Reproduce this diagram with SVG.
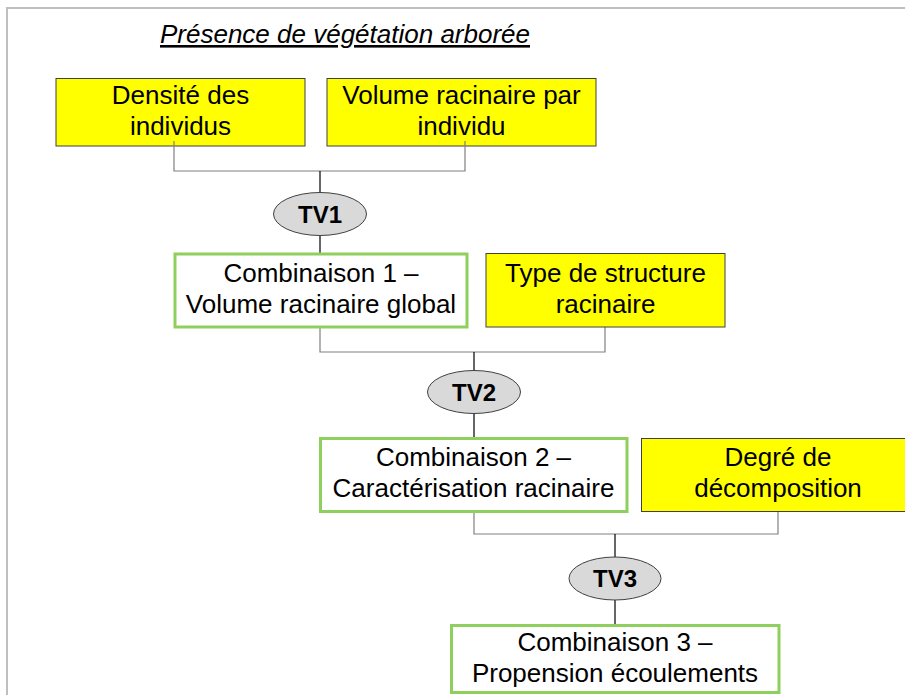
<svg xmlns="http://www.w3.org/2000/svg" width="905" height="695" viewBox="0 0 905 695">
<style>
.t{font-family:"Liberation Sans",Arial,sans-serif;font-size:26px;fill:#000;text-anchor:middle}
.y{fill:#ffff00;stroke:#404040;stroke-width:1}
.g{fill:#fff;stroke:#8fcf5e;stroke-width:3}
.e{fill:#d9d9d9;stroke:#404040;stroke-width:1}
.tv{font-family:"Liberation Sans",Arial,sans-serif;font-size:24px;font-weight:bold;fill:#000;text-anchor:middle}
.br{fill:none;stroke:#808080;stroke-width:1.2}
.st{fill:none;stroke:#000;stroke-width:1.2}
</style>
<rect x="0" y="0" width="905" height="695" fill="#fff"/>
<rect x="7" y="8" width="1000" height="1000" fill="none" stroke="#bfbfbf" stroke-width="2"/>
<text id="title" x="345" y="43" class="t" font-style="italic" text-decoration="underline">Présence de végétation arborée</text>
<g id="densite">
<rect class="y" x="56" y="78.5" width="249" height="67.5"/>
<text class="t" x="180.5" y="104">Densité des</text>
<text class="t" x="180.5" y="135">individus</text>
</g>
<g id="volume">
<rect class="y" x="327" y="78.5" width="269" height="67.5"/>
<text class="t" x="461.5" y="104">Volume racinaire par</text>
<text class="t" x="461.5" y="135">individu</text>
</g>
<g id="connectors">
<polyline class="br" points="174,141 174,171 465,171 465,141"/>
<line class="st" x1="320" y1="171" x2="320" y2="192"/>
<line class="st" x1="320" y1="236" x2="320" y2="253"/>
<polyline class="br" points="320,328 320,352 605,352 605,327"/>
<line class="st" x1="474" y1="352" x2="474" y2="371"/>
<line class="st" x1="474" y1="413" x2="474" y2="437"/>
<polyline class="br" points="474,512 474,534 778,534 778,511"/>
<line class="st" x1="615" y1="534" x2="615" y2="557"/>
<line class="st" x1="615" y1="600" x2="615" y2="624"/>
</g>
<g id="tv1">
<ellipse class="e" cx="320" cy="214" rx="46.5" ry="21.5"/>
<text class="tv" x="320" y="222.5">TV1</text>
</g>
<g id="comb1">
<rect class="g" x="175" y="254" width="292" height="73"/>
<text class="t" x="321" y="282">Combinaison 1 –</text>
<text class="t" x="321" y="313">Volume racinaire global</text>
</g>
<g id="type">
<rect class="y" x="486" y="253.5" width="239" height="73.5"/>
<text class="t" x="605.5" y="282">Type de structure</text>
<text class="t" x="605.5" y="313">racinaire</text>
</g>
<g id="tv2">
<ellipse class="e" cx="474" cy="392" rx="46.5" ry="21.5"/>
<text class="tv" x="474" y="400.5">TV2</text>
</g>
<g id="comb2">
<rect class="g" x="320.5" y="438.5" width="306.5" height="73"/>
<text class="t" x="473.5" y="466">Combinaison 2 –</text>
<text class="t" x="473.5" y="497">Caractérisation racinaire</text>
</g>
<g id="degre">
<rect class="y" x="641.5" y="438.5" width="275" height="73"/>
<text class="t" x="778" y="466">Degré de</text>
<text class="t" x="778" y="497">décomposition</text>
</g>
<g id="tv3">
<ellipse class="e" cx="615" cy="578.5" rx="46" ry="21.5"/>
<text class="tv" x="615" y="587">TV3</text>
</g>
<g id="comb3">
<rect class="g" x="451.5" y="625.5" width="327.5" height="67"/>
<text class="t" x="615" y="651">Combinaison 3 –</text>
<text class="t" x="615" y="682">Propension écoulements</text>
</g>
</svg>
